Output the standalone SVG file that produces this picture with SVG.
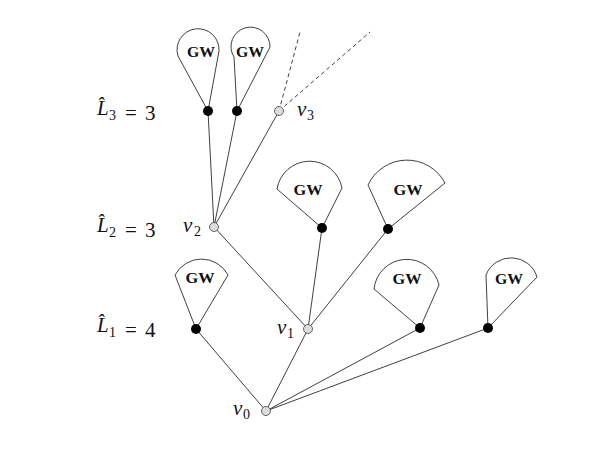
<svg xmlns="http://www.w3.org/2000/svg" width="608" height="458" viewBox="0 0 608 458">
<style>
.e{stroke:#2a2a2a;stroke-width:0.9;fill:none}
.d{stroke:#2a2a2a;stroke-width:0.9;fill:none;stroke-dasharray:4 3}
.gw{stroke:#2a2a2a;stroke-width:0.9;fill:#fff}
.b{fill:#000}
.g{fill:#dcdcdc;stroke:#555;stroke-width:0.9}
.t{font-family:"Liberation Serif",serif;font-weight:bold;font-size:15px;text-anchor:middle;fill:#111}
.m{font-family:"Liberation Serif",serif;font-size:21px;fill:#111}
.i{font-style:italic}
.s{font-size:14px}
</style>
<rect width="608" height="458" fill="#fff"/>
<g id="connectors">
<line class="e" x1="266" y1="411" x2="196" y2="329"/>
<line class="e" x1="266" y1="411" x2="308" y2="329"/>
<line class="e" x1="266" y1="411" x2="420" y2="328"/>
<line class="e" x1="266" y1="411" x2="488" y2="328"/>
<line class="e" x1="308" y1="329" x2="214" y2="227"/>
<line class="e" x1="308" y1="329" x2="322" y2="228"/>
<line class="e" x1="308" y1="329" x2="388" y2="229"/>
<line class="e" x1="214" y1="227" x2="208" y2="111"/>
<line class="e" x1="214" y1="227" x2="237" y2="111"/>
<line class="e" x1="214" y1="227" x2="279" y2="111"/>
<line class="d" x1="279" y1="111" x2="300" y2="32"/>
<line class="d" x1="279" y1="111" x2="370" y2="32"/>
</g>
<g id="gw3a">
<path class="gw" d="M208,111 L178,56 A21,21 0 1 1 219,51 Z"/>
<text class="t" x="201" y="57" textLength="28" lengthAdjust="spacingAndGlyphs">GW</text>
<circle class="b" cx="208" cy="111" r="5"/>
</g>
<g id="gw3b">
<path class="gw" d="M237,111 L234,57 A19.5,19.5 0 1 1 270,47 Z"/>
<text class="t" x="250" y="57" textLength="28" lengthAdjust="spacingAndGlyphs">GW</text>
<circle class="b" cx="237" cy="111" r="5"/>
</g>
<g id="gw2a">
<path class="gw" d="M322,228 L277,189 A33,33 0 0 1 342,188 Z"/>
<text class="t" x="308" y="195" textLength="29" lengthAdjust="spacingAndGlyphs">GW</text>
<circle class="b" cx="322" cy="228" r="5"/>
</g>
<g id="gw2b">
<path class="gw" d="M388,229 L368,185 A43,43 0 0 1 445,183 Z"/>
<text class="t" x="408" y="195" textLength="29" lengthAdjust="spacingAndGlyphs">GW</text>
<circle class="b" cx="388" cy="229" r="5"/>
</g>
<g id="gw1a">
<path class="gw" d="M196,329 L175,275 A30,30 0 0 1 228,275 Z"/>
<text class="t" x="200" y="283" textLength="29" lengthAdjust="spacingAndGlyphs">GW</text>
<circle class="b" cx="196" cy="329" r="5"/>
</g>
<g id="gw1b">
<path class="gw" d="M420,328 L374,289 A33,33 0 0 1 439,285 Z"/>
<text class="t" x="407" y="284" textLength="29" lengthAdjust="spacingAndGlyphs">GW</text>
<circle class="b" cx="420" cy="328" r="5"/>
</g>
<g id="gw1c">
<path class="gw" d="M488,328 L486,275 A27,27 0 0 1 537,277 Z"/>
<text class="t" x="509" y="284" textLength="28" lengthAdjust="spacingAndGlyphs">GW</text>
<circle class="b" cx="488" cy="328" r="5"/>
</g>
<g id="v3">
<circle class="g" cx="279" cy="111" r="4.5"/>
<text class="m" y="116"><tspan class="i" x="297">v</tspan><tspan class="s" x="307" y="120">3</tspan></text>
</g>
<g id="v2">
<circle class="g" cx="214" cy="227" r="4.5"/>
<text class="m" y="232"><tspan class="i" x="183">v</tspan><tspan class="s" x="194" y="236">2</tspan></text>
</g>
<g id="v1">
<circle class="g" cx="308" cy="329" r="4.5"/>
<text class="m" y="334"><tspan class="i" x="277">v</tspan><tspan class="s" x="287" y="338">1</tspan></text>
</g>
<g id="v0">
<circle class="g" cx="266" cy="411" r="4.5"/>
<text class="m" y="415"><tspan class="i" x="233">v</tspan><tspan class="s" x="243" y="419">0</tspan></text>
</g>
<g id="labels">
<text class="m" y="115"><tspan class="i" x="97">L̂</tspan><tspan class="s" x="109" y="120">3</tspan><tspan x="125">=</tspan><tspan x="145">3</tspan></text>
<text class="m" y="232"><tspan class="i" x="97">L̂</tspan><tspan class="s" x="109" y="237">2</tspan><tspan x="125">=</tspan><tspan x="145">3</tspan></text>
<text class="m" y="332"><tspan class="i" x="97">L̂</tspan><tspan class="s" x="109" y="337">1</tspan><tspan x="125">=</tspan><tspan x="145">4</tspan></text>
</g>
</svg>
